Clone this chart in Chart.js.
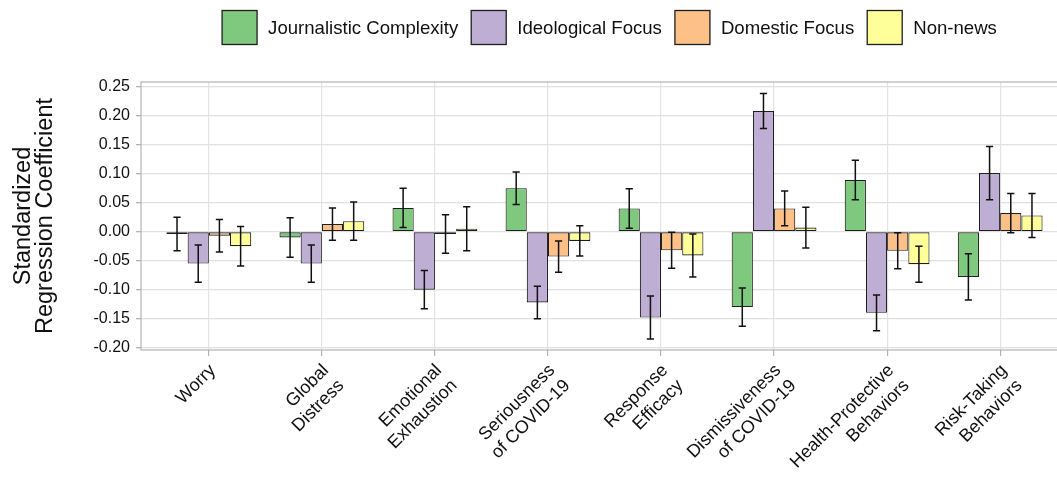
<!DOCTYPE html>
<html><head><meta charset="utf-8">
<script src="https://cdn.jsdelivr.net/npm/chart.js@4.4.1/dist/chart.umd.min.js"></script>
<style>html,body{margin:0;padding:0;overflow:hidden;background:#fff;width:1057px;height:477px}canvas{display:block}</style>
</head><body>
<canvas id="c" width="1080" height="477" style="width:1080px;height:477px"></canvas>
<script>
const categories = [["Worry"],["Global","Distress"],["Emotional","Exhaustion"],["Seriousness","of COVID-19"],["Response","Efficacy"],["Dismissiveness","of COVID-19"],["Health-Protective","Behaviors"],["Risk-Taking","Behaviors"]];
const seriesNames = ["Journalistic Complexity","Ideological Focus","Domestic Focus","Non-news"];
const journalistic    = [-0.004,-0.010, 0.041, 0.075, 0.040,-0.130, 0.089,-0.078];
const journalisticErr = [ 0.029, 0.034, 0.034, 0.028, 0.034, 0.033, 0.034, 0.040];
const ideological     = [-0.055,-0.055,-0.100,-0.122,-0.148, 0.208,-0.140, 0.101];
const ideologicalErr  = [ 0.032, 0.032, 0.033, 0.028, 0.037, 0.030, 0.031, 0.046];
const domestic        = [-0.007, 0.013,-0.004,-0.043,-0.032, 0.040,-0.033, 0.032];
const domesticErr     = [ 0.028, 0.028, 0.033, 0.027, 0.031, 0.030, 0.031, 0.034];
const nonnews         = [-0.025, 0.018, 0.005,-0.016,-0.041, 0.007,-0.056, 0.028];
const nonnewsErr      = [ 0.034, 0.033, 0.038, 0.026, 0.037, 0.035, 0.031, 0.038];
const yTicks = [-0.20,-0.15,-0.10,-0.05,0.00,0.05,0.10,0.15,0.20,0.25];
const colors = ["#7fc97f","#beaed4","#fdc086","#ffff99"];

const FONT = "'Liberation Sans', Arial, Helvetica, sans-serif";
const values = [journalistic, ideological, domestic, nonnews];
const errors = [journalisticErr, ideologicalErr, domesticErr, nonnewsErr];

const datasets = seriesNames.map((name, s) => ({
  label: name,
  data: values[s].map((v, i) => ({x: i, y: v})),
  errors: errors[s],
  backgroundColor: colors[s],
  borderColor: "#1e1e1e",
  borderWidth: 1.1,
  borderSkipped: false,
  categoryPercentage: 0.75,
  barPercentage: 1.0
}));

const errorBarPlugin = {
  id: "errorBars",
  afterDatasetsDraw(chart) {
    const ctx = chart.ctx, y = chart.scales.y;
    ctx.save();
    ctx.strokeStyle = "#111";
    ctx.lineWidth = 1.5;
    chart.data.datasets.forEach((ds, di) => {
      const meta = chart.getDatasetMeta(di);
      meta.data.forEach((bar, j) => {
        const v = ds.data[j].y, e = ds.errors[j];
        const yt = y.getPixelForValue(v + e), yb = y.getPixelForValue(v - e);
        const x = bar.x, cw = 3.6;
        ctx.beginPath();
        ctx.moveTo(x, yt); ctx.lineTo(x, yb);
        ctx.moveTo(x - cw, yt); ctx.lineTo(x + cw, yt);
        ctx.moveTo(x - cw, yb); ctx.lineTo(x + cw, yb);
        ctx.stroke();
      });
    });
    ctx.restore();
  }
};

const borderPlugin = {
  id: "panelBorder",
  beforeDatasetsDraw(chart) {
    const {ctx, chartArea: a} = chart;
    ctx.save();
    ctx.strokeStyle = "#b3b3b3";
    ctx.lineWidth = 1.2;
    ctx.strokeRect(a.left, a.top, a.right - a.left, a.bottom - a.top);
    ctx.restore();
  }
};

const legendPlugin = {
  id: "customLegend",
  afterDraw(chart) {
    const ctx = chart.ctx;
    ctx.save();
    ctx.font = "18.6px " + FONT;
    ctx.textBaseline = "middle";
    ctx.textAlign = "left";
    const box = 35, gapText = 11, gapItem = 13;
    const items = chart.data.datasets.map(d => ({label: d.label, color: d.backgroundColor, w: ctx.measureText(d.label).width}));
    let total = 0;
    items.forEach((it, i) => { total += box + gapText + it.w + (i < items.length - 1 ? gapItem : 0); });
    let x = 609.5 - total / 2;
    const top = 10.5;
    items.forEach(it => {
      ctx.fillStyle = it.color;
      ctx.fillRect(x, top, box, box - 1);
      ctx.strokeStyle = "#1e1e1e";
      ctx.lineWidth = 1.3;
      ctx.strokeRect(x, top, box, box - 1);
      ctx.fillStyle = "#111";
      ctx.fillText(it.label, x + box + gapText, top + box / 2 + 1);
      x += box + gapText + it.w + gapItem;
    });
    ctx.restore();
  }
};

new Chart(document.getElementById("c"), {
  type: "bar",
  data: { datasets },
  plugins: [borderPlugin, errorBarPlugin, legendPlugin],
  options: {
    responsive: false,
    animation: false,
    devicePixelRatio: 1,
    layout: { padding: { top: 82, right: 12, left: 0, bottom: 0 } },
    plugins: { legend: { display: false }, tooltip: { enabled: false } },
    scales: {
      x: {
        type: "linear",
        min: -0.6, max: 7.6,
        offset: false,
        afterBuildTicks(scale) { scale.ticks = categories.map((c, i) => ({value: i})); },
        afterFit(scale) { scale.height = 127; },
        grid: { offset: false, color: "#e3e3e3", lineWidth: 1.2, tickLength: 6, tickColor: "#b3b3b3", drawOnChartArea: true },
        border: { display: false },
        ticks: {
          autoSkip: false,
          maxRotation: 45, minRotation: 45,
          color: "#111",
          font: { family: FONT, size: 18 },
          padding: 4,
          labelOffset: 4,
          callback: (v) => categories[Math.round(v)]
        }
      },
      y: {
        min: -0.204, max: 0.258,
        afterBuildTicks(scale) {
          const t = [];
          yTicks.forEach((v, i) => {
            t.push({value: v, major: true});
            if (i < yTicks.length - 1) t.push({value: (v + yTicks[i + 1]) / 2, major: false});
          });
          scale.ticks = t;
        },
        afterFit(scale) { scale.width = 141; },
        grid: {
          color: (c) => c.tick && c.tick.major ? "#e0e0e0" : "#efefef",
          lineWidth: (c) => c.tick && c.tick.major ? 1.3 : 0.8,
          tickLength: 5,
          tickColor: (c) => c.tick && c.tick.major ? "#b3b3b3" : "rgba(0,0,0,0)"
        },
        border: { display: false },
        title: {
          display: true,
          text: ["Standardized", "Regression Coefficient"],
          color: "#111",
          font: { family: FONT, size: 23.5, lineHeight: 0.95 },
          padding: { top: 12, bottom: 0 }
        },
        ticks: {
          color: "#111",
          font: { family: FONT, size: 16 },
          padding: 6,
          callback: function(v, i, ticks) { return ticks[i].major ? Number(v).toFixed(2) : ""; }
        }
      }
    }
  }
});
</script>
</body></html>
